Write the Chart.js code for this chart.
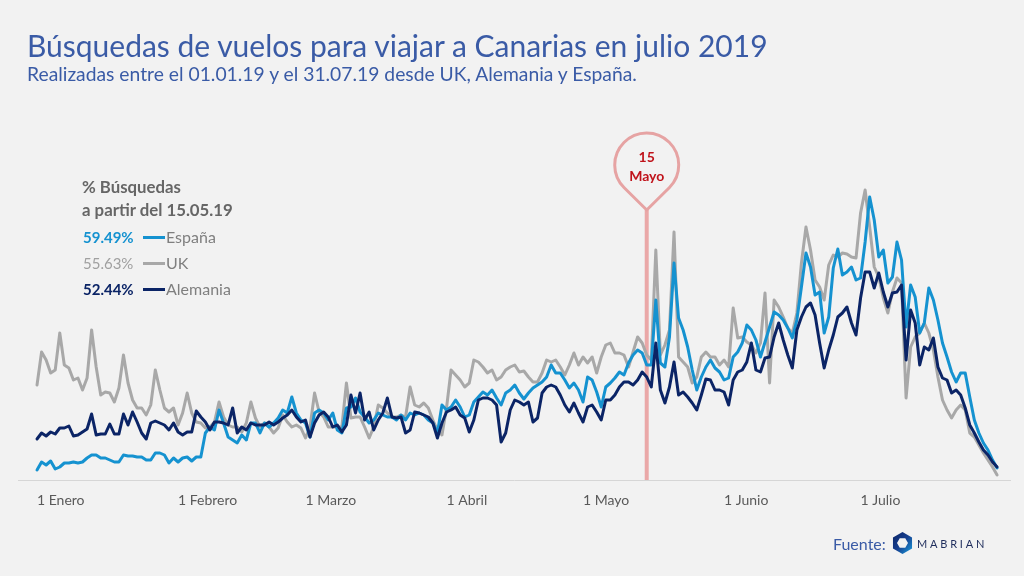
<!DOCTYPE html>
<html><head><meta charset="utf-8">
<script src="https://cdn.jsdelivr.net/npm/chart.js@4.4.1/dist/chart.umd.min.js"></script>
<style>
html,body{margin:0;padding:0;background:#f2f2f2;}
#wrap{position:relative;width:1024px;height:576px;overflow:hidden;background:#f2f2f2;font-family:Lato,'Noto Sans',sans-serif;}
canvas{position:absolute;left:0;top:0;}
.t{position:absolute;white-space:nowrap;}
#title{left:27px;top:30px;font-size:30px;line-height:30px;color:#3a5ba6;}
#sub{left:27px;top:64px;font-size:19.3px;line-height:19.3px;color:#3a5ba6;}
.lh{font-size:16.8px;line-height:17px;font-weight:700;color:#666;left:82px;}
.pct{font-size:15px;line-height:15px;left:83px;}
.lab{font-size:16px;line-height:16px;left:166px;color:#7f7f7f;}
.sw{position:absolute;left:143px;width:22px;height:3px;}
#fuente{left:833px;top:536px;font-size:16px;line-height:16px;color:#3a5ba6;}
#logo{position:absolute;left:892px;top:532px;}
#mab{left:917px;top:538px;font-size:11px;line-height:11px;letter-spacing:2.8px;color:#1f2d5c;}
</style></head>
<body>
<div id="wrap">
<canvas id="c" width="1024" height="576"></canvas>
<div class="t" id="title">Búsquedas de vuelos para viajar a Canarias en julio 2019</div>
<div class="t" id="sub">Realizadas entre el 01.01.19 y el 31.07.19 desde UK, Alemania y España.</div>
<div class="t lh" style="top:178px">% Búsquedas</div>
<div class="t lh" style="top:201px">a partir del 15.05.19</div>
<div id="legend"></div>
<div class="t" id="fuente">Fuente:</div>
<svg id="logo" width="21" height="22" viewBox="0 0 21 22">
<defs><linearGradient id="g" x1="0" y1="0" x2="1" y2="1"><stop offset="0" stop-color="#0b2466"/><stop offset="0.5" stop-color="#163f8f"/><stop offset="1" stop-color="#1aa0e0"/></linearGradient></defs>
<path fill="url(#g)" fill-rule="evenodd" d="M10.5 0 L20.03 5.5 L20.03 16.5 L10.5 22 L0.97 16.5 L0.97 5.5 Z M16 11 L13.25 15.76 L7.75 15.76 L5 11 L7.75 6.24 L13.25 6.24 Z"/>
</svg>
<div class="t" id="mab">MABRIAN</div>
</div>
<script>
// Daily index of flight searches, 1 Jan 2019 (day 0) .. 31 Jul 2019 (day 211)
const espana = [
10,18,15,19,11,13,17,17,18,17,18,22,25,25,22,22,20,18,18,25,24,24,23,23,20,20,27,27,25,17,22,18,22,23,19,23,23,47,53,50,70,57,43,40,37,45,40,57,57,47,57,53,57,62,
70,67,83,67,60,57,43,67,70,67,60,67,50,47,72,73,82,68,63,57,60,67,65,63,63,60,65,60,67,65,67,65,60,57,47,75,70,73,80,73,63,65,78,83,88,85,90,82,
75,87,90,95,87,81,87,92,95,98,103,115,107,107,100,92,97,90,78,103,100,88,73,93,97,102,108,105,117,125,130,127,115,115,180,
117,113,143,217,162,150,133,110,90,103,113,120,112,108,100,102,123,128,137,155,150,
140,123,138,153,168,165,160,152,142,160,193,227,213,185,188,147,163,212,231,205,208,213,200,202,238,283,260,223,230,197,203,238,220,153,195,183,147,157,192,180,160,137,123,108,98,107,107,83,60,47,37,30,20,12
];
const uk = [
95,128,120,107,110,147,115,112,100,102,90,102,150,113,85,88,87,78,92,125,97,80,72,72,65,75,110,90,72,68,72,55,67,87,67,58,57,52,53,58,78,63,55,53,53,48,57,78,62,53,57,53,47,52,
65,58,53,55,52,42,53,87,68,63,53,53,53,53,97,62,63,63,53,42,53,75,72,67,63,63,65,63,93,75,73,77,72,60,50,45,72,110,105,100,93,97,120,118,113,107,110,100,
103,110,113,115,108,109,103,98,98,107,120,118,120,113,105,115,127,115,123,117,123,107,123,135,137,127,127,125,113,128,143,137,125,120,230,
125,135,150,248,123,118,113,97,103,123,128,123,123,115,120,113,172,142,143,138,135,
127,137,187,97,180,173,163,152,147,167,217,253,230,200,193,180,215,225,223,227,226,223,222,267,290,253,213,203,182,167,188,202,197,82,133,143,147,157,147,130,103,80,70,62,70,75,70,47,43,35,27,20,13,5
];
const alemania = [
41,47,44,48,46,52,52,54,44,45,48,51,66,45,46,46,56,46,46,66,55,68,58,47,41,57,59,57,55,50,57,48,45,48,48,69,63,58,50,58,58,57,55,72,47,53,50,57,55,55,55,58,55,58,
62,65,70,63,58,60,43,57,65,68,63,53,55,48,55,85,67,87,60,68,50,60,67,82,63,62,63,47,50,68,67,65,63,57,42,57,68,70,73,65,62,48,60,80,82,82,80,75,
38,47,70,80,78,75,78,58,62,87,93,95,93,85,75,68,77,67,58,73,75,68,60,80,80,85,93,98,98,95,100,108,103,93,137,
90,77,93,118,85,88,83,77,70,85,101,100,90,90,88,75,100,108,110,118,137,
110,108,122,123,143,157,140,125,112,150,163,173,177,165,137,112,130,145,163,167,173,157,145,182,208,208,192,207,188,173,187,188,195,120,170,157,115,133,130,142,113,102,100,87,90,85,72,55,47,38,30,25,18,13
];
const tickDays = [0, 31, 59, 90, 120, 151, 181];
const tickLabels = ['1 Enero', '1 Febrero', '1 Marzo', '1 Abril', '1 Mayo', '1 Junio', '1 Julio'];
const markerDay = 134;
const markerLabel = ['15', 'Mayo'];
const seriesNames = ['España', 'UK', 'Alemania'];
const seriesPct = ['59.49%', '55.63%', '52.44%'];
const seriesColors = ['#1592d0', '#a8a8a8', '#0b2466'];
const pctColors = ['#1592d0', '#a0a0a0', '#0b2466'];
const pctWeights = [700, 400, 700];

// legend
const lg = document.getElementById('legend');
seriesNames.forEach((n, i) => {
  const top = 230 + i * 26;
  lg.insertAdjacentHTML('beforeend',
    `<div class="t pct" style="top:${top}px;color:${pctColors[i]};font-weight:${pctWeights[i]}">${seriesPct[i]}</div>` +
    `<div class="sw" style="top:${top + 6}px;background:${seriesColors[i]}"></div>` +
    `<div class="t lab" style="top:${top - 1}px">${n}</div>`);
});

const toXY = arr => arr.map((v, i) => ({x: i, y: v}));

const pinPlugin = {
  id: 'pin',
  beforeDatasetsDraw(chart) {
    const {ctx, chartArea, scales: {x, y}} = chart;
    const px = x.getPixelForValue(markerDay);
    const bottom = y.getPixelForValue(0);
    const tipY = chartArea.top + 30;
    const r = 32, d = 45;
    const cy = tipY - d;
    ctx.save();
    ctx.strokeStyle = '#eaa8a8';
    ctx.lineWidth = 4;
    ctx.beginPath(); ctx.moveTo(px, tipY); ctx.lineTo(px, bottom); ctx.stroke();
    const a = Math.acos(r / d);
    ctx.lineWidth = 3;
    ctx.strokeStyle = '#e6a3a3';
    ctx.lineJoin = 'round';
    ctx.beginPath();
    ctx.arc(px, cy, r, Math.PI / 2 + a, Math.PI / 2 - a, false);
    ctx.lineTo(px, tipY);
    ctx.closePath();
    ctx.stroke();
    ctx.fillStyle = '#c0131b';
    ctx.font = 'bold 14px Lato';
    ctx.textAlign = 'center';
    ctx.textBaseline = 'middle';
    ctx.fillText(markerLabel[0], px, cy - 8);
    ctx.fillText(markerLabel[1], px, cy + 11);
    ctx.restore();
  }
};

const ds = (label, data, color, order) => ({
  label, data: toXY(data), borderColor: color, borderWidth: 3, pointRadius: 0,
  tension: 0, borderJoinStyle: 'round', borderCapStyle: 'round', fill: false, order
});

new Chart(document.getElementById('c'), {
  type: 'line',
  data: {
    datasets: [
      ds(seriesNames[2], alemania, seriesColors[2], 1),
      ds(seriesNames[0], espana, seriesColors[0], 2),
      ds(seriesNames[1], uk, seriesColors[1], 3)
    ]
  },
  options: {
    responsive: false, animation: false, devicePixelRatio: 1,
    layout: {padding: {left: 18, right: 14, top: 180, bottom: 56}},
    plugins: {legend: {display: false}, tooltip: {enabled: false}},
    scales: {
      x: {
        type: 'linear', min: -4.18, max: 213.84,
        grid: {display: false, drawTicks: false},
        border: {display: true, color: '#d6d6d6', width: 1},
        ticks: {
          align: 'start', padding: 12, autoSkip: false, maxRotation: 0,
          font: {family: 'Lato', size: 14}, color: '#595959',
          callback: v => { const k = tickDays.indexOf(v); return k >= 0 ? tickLabels[k] : ''; }
        },
        afterBuildTicks: s => { s.ticks = tickDays.map(v => ({value: v})); },
        afterFit: s => { s.height = 40; }
      },
      y: {display: false, min: 0, max: 300}
    }
  },
  plugins: [pinPlugin]
});
</script>
</body></html>
